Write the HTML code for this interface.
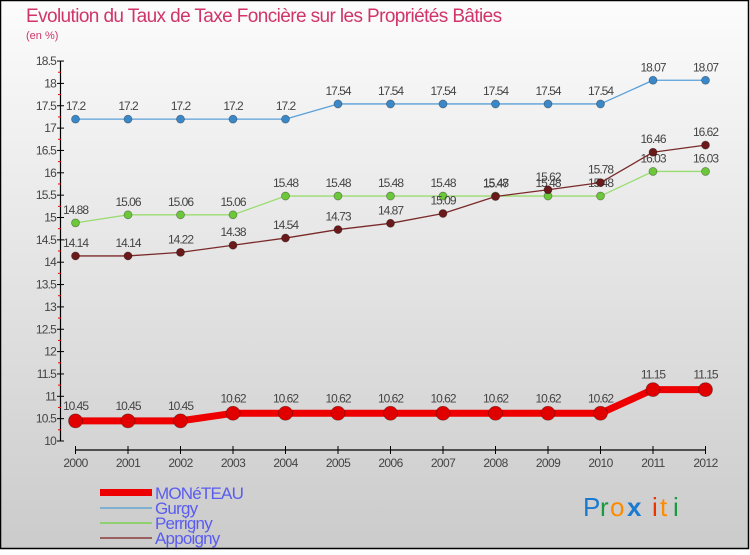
<!DOCTYPE html>
<html><head><meta charset="utf-8"><style>
html,body{margin:0;padding:0}
body{width:750px;height:550px;overflow:hidden}
svg text{font-family:"Liberation Sans","DejaVu Sans",sans-serif}
</style></head><body>
<svg id="chart" width="750" height="550" xmlns="http://www.w3.org/2000/svg">
<defs>
<linearGradient id="bg" x1="0" y1="0" x2="0" y2="1"><stop offset="0" stop-color="#fcfcfc"/><stop offset="1" stop-color="#cbcbcb"/></linearGradient>
</defs>
<rect x="0.5" y="0.5" width="748" height="548" fill="url(#bg)" stroke="#000" stroke-width="1.5"/>
<text x="26" y="22" font-size="19" fill="#d0346a" letter-spacing="-0.6">Evolution du Taux de Taxe Foncière sur les Propriétés Bâties</text>
<text x="26" y="39" font-size="11" fill="#d0346a">(en %)</text>
<g id="axes"></g>
<g id="series"></g>
<g id="legend">
<rect x="100" y="489" width="52" height="7" fill="#e00"/>
<text x="155" y="499" font-size="17" fill="#5a5cf0" letter-spacing="-0.8">MONéTEAU</text>
<rect x="100" y="507" width="52" height="2" fill="#7fb0d0"/>
<text x="155" y="514" font-size="17" fill="#5a5cf0" letter-spacing="-0.8">Gurgy</text>
<rect x="100" y="522" width="52" height="2" fill="#90d070"/>
<text x="155" y="529" font-size="17" fill="#5a5cf0" letter-spacing="-0.8">Perrigny</text>
<rect x="100" y="537" width="52" height="2" fill="#9a6060"/>
<text x="155" y="544" font-size="17" fill="#5a5cf0" letter-spacing="-0.8">Appoigny</text>
</g>
<g font-size="26" font-family="Liberation Sans, sans-serif">
<text x="583" y="516" fill="#1a7ad0">P</text><text x="600" y="516" fill="#1a9a40">r</text><text x="610" y="516" fill="#ff8a00">o</text><text x="627" y="516" fill="#1a7ad0" font-weight="bold">x</text><text x="652" y="516" fill="#ee3300">i</text><text x="660" y="516" fill="#ff8a00">t</text><text x="673" y="516" fill="#1a9a40">i</text>
</g>
</svg>
<script>
const years=["2000","2001","2002","2003","2004","2005","2006","2007","2008","2009","2010","2011","2012"];
const moneteau=[10.45,10.45,10.45,10.62,10.62,10.62,10.62,10.62,10.62,10.62,10.62,11.15,11.15];
const gurgy=[17.2,17.2,17.2,17.2,17.2,17.54,17.54,17.54,17.54,17.54,17.54,18.07,18.07];
const perrigny=[14.88,15.06,15.06,15.06,15.48,15.48,15.48,15.48,15.48,15.48,15.48,16.03,16.03];
const appoigny=[14.14,14.14,14.22,14.38,14.54,14.73,14.87,15.09,15.47,15.62,15.78,16.46,16.62];
const yTicks=["10","10.5","11","11.5","12","12.5","13","13.5","14","14.5","15","15.5","16","16.5","17","17.5","18","18.5"];
const NS="http://www.w3.org/2000/svg";
const X0=75.5,DX=52.5,Y0=441,PX=44.7,YMIN=10;
function xs(i){return X0+i*DX;}
function ys(v){return Y0-(v-YMIN)*PX;}
function mk(tag,attrs,parent){const e=document.createElementNS(NS,tag);for(const k in attrs)e.setAttribute(k,attrs[k]);parent.appendChild(e);return e;}
const ax=document.getElementById('axes');
let l=mk('line',{x1:60.5,y1:ys(18.5),x2:60.5,y2:ys(10),stroke:'#000','stroke-width':1.2},ax);


l=mk('line',{x1:xs(0),y1:450,x2:xs(12),y2:450,stroke:'#000','stroke-width':1.2},ax);


yTicks.forEach(function(t){const v=parseFloat(t);const y=ys(v);
 const tk=mk('line',{x1:57,y1:y,x2:64,y2:y,stroke:'#000','stroke-width':1},ax);
 
 
 const tx=mk('text',{x:56,y:y+4,'font-size':12,'text-anchor':'end',fill:'#444','letter-spacing':'-0.8'},ax);
 tx.textContent=t;
 
 
 if(v<18.5){const m=mk('line',{x1:58,y1:ys(v+0.25),x2:61,y2:ys(v+0.25),stroke:'#e00','stroke-width':1},ax);
 
 }
});
years.forEach(function(yr,i){const x=xs(i);
 const tk=mk('line',{x1:x,y1:446,x2:x,y2:454,stroke:'#000','stroke-width':1},ax);
 
 
 const tx=mk('text',{x:x,y:467,'font-size':12,'text-anchor':'middle',fill:'#444','letter-spacing':'-0.6'},ax);
 tx.textContent=yr;
 
 
});
const sg=document.getElementById('series');
function draw(name,vals,color,dot,w,r,dy){
 const g=mk('g',{},sg);
 
 
 const pts=vals.map(function(v,i){return xs(i)+','+ys(v);}).join(' ');
 const pl=mk('polyline',{points:pts,fill:'none',stroke:color,'stroke-width':w,'stroke-linejoin':'round'},g);
 
 
 vals.forEach(function(v,i){
  const c=mk('circle',{cx:xs(i),cy:ys(v),r:r,fill:dot,stroke:'rgba(0,0,0,0.35)','stroke-width':0.8},g);
  
  
  const t=mk('text',{x:xs(i),y:ys(v)-dy,'font-size':12,'text-anchor':'middle',fill:'#444','letter-spacing':'-1'},g);
  t.textContent=String(v);
  
  
 });
}
draw('gurgy',gurgy,'#5aa0d8','#3a88c8',1.3,4,9);
draw('perrigny',perrigny,'#9adc70','#6cc83a',1.3,4,9);
draw('appoigny',appoigny,'#7a2a2a','#6a1a1a',1.3,4,9);
draw('moneteau',moneteau,'#ee0000','#e00000',7,7,11);
</script>
</body></html>
